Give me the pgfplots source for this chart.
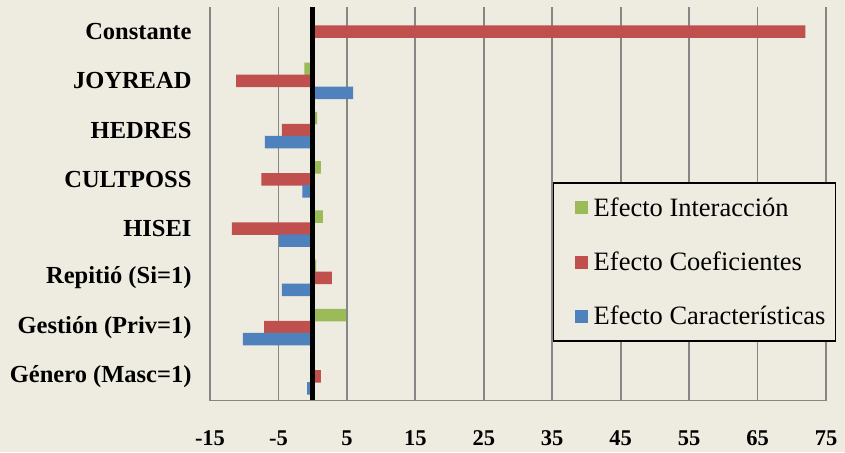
\documentclass[border=0pt]{standalone}
\usepackage{fontspec}
\setmainfont{Liberation Serif}
\usepackage{pgfplots}
\pgfplotsset{compat=1.18}
\definecolor{bg}{RGB}{238,235,224}
\definecolor{gridc}{RGB}{134,134,134}
\definecolor{cg}{RGB}{155,187,89}
\definecolor{cr}{RGB}{192,80,77}
\definecolor{cb}{RGB}{79,129,189}
\begin{document}
\begin{tikzpicture}
\fill[bg] (0,0) rectangle (845pt,452pt);
\useasboundingbox (0,0) rectangle (845pt,452pt);
\begin{axis}[
  at={(210pt,51pt)}, anchor=south west,
  scale only axis, width=616pt, height=394pt,
  xmin=-15, xmax=75, ymin=-0.5, ymax=7.5,
  axis line style={draw=none},
  xtick={-15,-5,...,75},
  xticklabels={-15,-5,5,15,25,35,45,55,65,75},
  ytick={0,...,7},
  yticklabels={G\'enero (Masc=1),Gesti\'on (Priv=1),Repiti\'o (Si=1),HISEI,CULTPOSS,HEDRES,JOYREAD,Constante},
  major tick length=0pt,
  xmajorgrids, grid style={gridc, line width=1.8pt},
  xticklabel style={font=\bfseries\fontsize{22.5}{22.5}\selectfont, yshift=-26pt},
  yticklabel style={font=\bfseries\fontsize{24.5}{24.5}\selectfont, xshift=-15pt},
  legend image code/.code={\fill[#1] (13pt,-6.5pt) rectangle (26pt,6.5pt); \path (0pt,0pt) (30pt,0pt);},
  legend style={at={(0.5568,0.5558)}, anchor=north west, draw=black, line width=1.5pt,
    fill=bg, font=\fontsize{26.5}{26.5}\selectfont, row sep=30pt, inner xsep=8pt, inner ysep=13pt},
  legend cell align=left,
]
\addplot[xbar, bar width=12.5pt, bar shift=12pt, fill=cg, draw=none]
  coordinates {(-1.2,6) (0.65,5) (1.2,4) (1.5,3) (0.5,2) (4.9,1) (0.1,0)};
\addplot[xbar, bar width=12.5pt, bar shift=0pt, fill=cr, draw=none]
  coordinates {(72,7) (-11.2,6) (-4.5,5) (-7.5,4) (-11.8,3) (2.8,2) (-7.1,1) (1.2,0)};
\addplot[xbar, bar width=12.5pt, bar shift=-12pt, fill=cb, draw=none]
  coordinates {(5.9,6) (-7.0,5) (-1.5,4) (-4.9,3) (-4.5,2) (-10.2,1) (-0.8,0)};
\addplot[black, line width=4.8pt, forget plot] coordinates {(0,-0.5) (0,7.5)};
\draw[gridc, line width=1.8pt] (rel axis cs:0,0) -- (rel axis cs:1,0);
\legend{Efecto Interacción,Efecto Coeficientes,Efecto Características}
\end{axis}
\end{tikzpicture}
\end{document}
